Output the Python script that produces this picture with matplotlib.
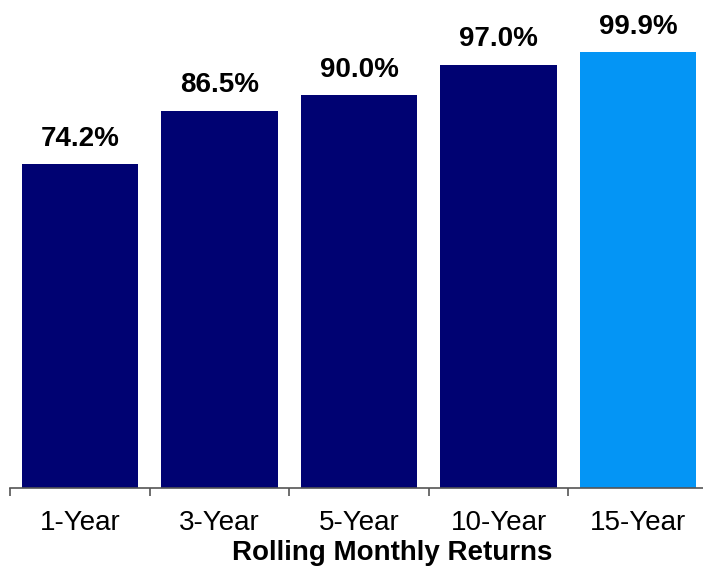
import numpy as np
import matplotlib
import matplotlib.pyplot as plt
matplotlib.use('Agg')

plt.rcParams['font.family'] = ['Liberation Sans', 'DejaVu Sans']

# data
periods = ['1-Year', '3-Year', '5-Year', '10-Year', '15-Year']
pct_positive = [74.2, 86.5, 90.0, 97.0, 99.9]
bar_colors = ['#000272', '#000272', '#000272', '#000272', '#0495F5']

W, H = 703, 571
fig = plt.figure(figsize=(W / 100, H / 100), dpi=100)

# axes spans a bit past the right edge, like the reference
ax = fig.add_axes([10 / W, 83 / H, 698 / W, 458 / H])

x = np.arange(len(periods))
ax.bar(x, pct_positive, width=0.835, color=bar_colors)

# value labels above the bars
for xi, v in zip(x, pct_positive):
    ax.annotate(f'{v:.1f}%', (xi, v), xytext=(0, 9), textcoords='offset points',
                ha='center', va='bottom', fontsize=20, fontweight='bold', color='black')

ax.set_xlim(-0.5, len(periods) - 0.5)
ax.set_ylim(0, 105)

# hide everything but the bottom spine
for side in ['left', 'right', 'top']:
    ax.spines[side].set_visible(False)
ax.spines['bottom'].set_color('#555555')
ax.spines['bottom'].set_linewidth(1.2)
ax.set_yticks([])

# labels at centres, tick marks between categories
ax.set_xticks(x)
ax.set_xticklabels(periods, fontsize=20)
ax.tick_params(axis='x', which='major', length=0, pad=16)
ax.set_xticks(np.arange(-0.5, len(periods)), minor=True)
ax.tick_params(axis='x', which='minor', length=6, width=1.2, color='#555555')

fig.text(392 / W, 1 - 553 / H, 'Rolling Monthly Returns', ha='center', va='center',
         fontsize=20, fontweight='bold')

plt.savefig('out.png', dpi=100)
